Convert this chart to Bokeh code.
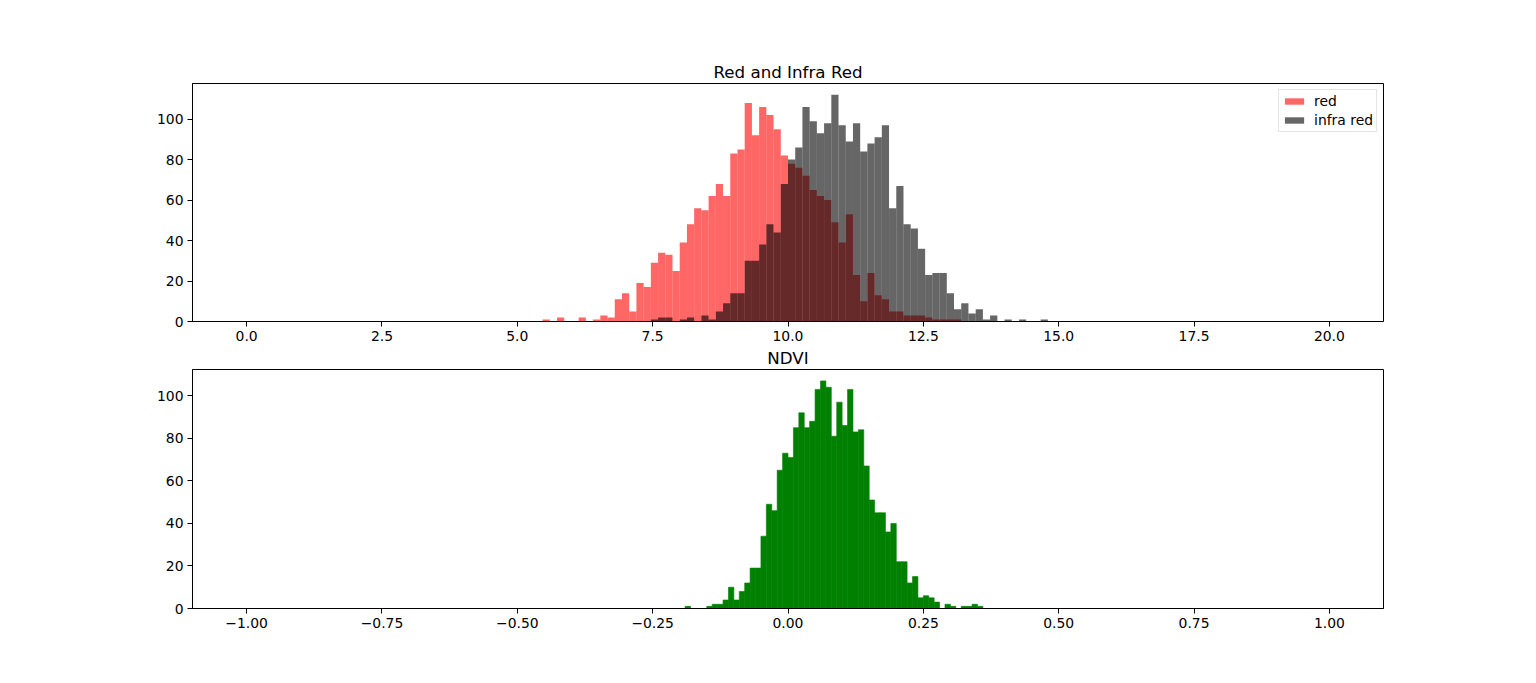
import numpy as np
from bokeh.plotting import figure
from bokeh.layouts import column
from bokeh.models import FixedTicker, Legend, LegendItem, Range1d
from bokeh.embed import file_html
from bokeh.resources import INLINE

# ---------------- data ----------------
# Top panel: histograms of the red and infra red bands, 150 bins on [0, 20]
band_lo = 0.0
band_hi = 20.0
band_bins = 150

red_first_bin = 41
red_counts = [1, 0, 2, 0, 0, 2, 0, 1, 3, 2,
              11, 14, 5, 19, 17, 29, 34, 33, 25, 39,
              48, 56, 55, 62, 68, 62, 83, 85, 108, 92,
              106, 102, 95, 82, 78, 76, 72, 65, 62, 60,
              49, 39, 53, 23, 10, 24, 13, 11, 5, 5,
              3, 3, 3, 2, 1, 1, 1, 1]

ir_first_bin = 56
ir_counts = [1, 2, 2, 0, 1, 2, 0, 3, 1, 5,
             9, 14, 14, 30, 30, 38, 48, 44, 68, 80,
             86, 106, 99, 93, 98, 112, 97, 89, 98, 84,
             88, 91, 97, 56, 67, 48, 46, 36, 23, 24,
             24, 14, 6, 9, 4, 6, 1, 3, 0, 1,
             0, 1, 0, 0, 1]

# Bottom panel: NDVI histogram, 200 bins on [-1, 1]
ndvi_lo = -1.0
ndvi_hi = 1.0
ndvi_bins = 200
ndvi_first_bin = 81
ndvi_counts = [1, 0, 0, 0, 1, 2, 2, 4, 10, 4,
               8, 12, 19, 19, 34, 49, 46, 65, 73, 71,
               85, 92, 85, 88, 103, 107, 104, 81, 97, 86,
               103, 83, 84, 67, 51, 45, 45, 36, 40, 22,
               22, 12, 15, 5, 6, 5, 3, 0, 2, 1,
               0, 1, 1, 2, 1]

top_title = "Red and Infra Red"
bottom_title = "NDVI"
series_labels = ["red", "infra red"]

top_xticks = [0.0, 2.5, 5.0, 7.5, 10.0, 12.5, 15.0, 17.5, 20.0]
top_xtick_labels = ["0.0", "2.5", "5.0", "7.5", "10.0", "12.5", "15.0", "17.5", "20.0"]
bottom_xticks = [-1.0, -0.75, -0.5, -0.25, 0.0, 0.25, 0.5, 0.75, 1.0]
bottom_xtick_labels = ["\u22121.00", "\u22120.75", "\u22120.50", "\u22120.25", "0.00",
                       "0.25", "0.50", "0.75", "1.00"]
yticks = [0, 20, 40, 60, 80, 100]
ytick_labels = ["0", "20", "40", "60", "80", "100"]

# ---------------- helpers ----------------
FONT = "DejaVu Sans"
TICK_SIZE = "13.9px"


def edges(lo, hi, nbins, first, counts):
    w = (hi - lo) / nbins
    idx = np.arange(first, first + len(counts))
    return lo + idx * w, lo + (idx + 1) * w, np.array(counts, dtype=float)


def style(p, xt, xl):
    p.xgrid.visible = False
    p.ygrid.visible = False
    p.outline_line_color = "black"
    p.outline_line_width = 1
    p.outline_line_alpha = 1
    p.xaxis.ticker = FixedTicker(ticks=xt)
    p.xaxis.major_label_overrides = {t: l for t, l in zip(xt, xl)}
    p.yaxis.ticker = FixedTicker(ticks=yticks)
    p.yaxis.major_label_overrides = {t: l for t, l in zip(yticks, ytick_labels)}
    for ax in (p.xaxis, p.yaxis):
        ax.axis_line_color = "black"
        ax.major_tick_line_color = "black"
        ax.major_tick_in = 0
        ax.major_tick_out = 5
        ax.minor_tick_line_color = None
        ax.major_label_text_color = "black"
        ax.major_label_text_font = FONT
        ax.major_label_text_font_size = TICK_SIZE
        ax.major_label_standoff = 4
    p.title.align = "center"
    p.title.text_font = FONT
    p.title.text_font_size = "16.7px"
    p.title.text_font_style = "normal"
    p.title.text_color = "black"
    p.title.standoff = 3


# ---------------- top figure ----------------
p1 = figure(frame_width=1191, frame_height=238,
            min_border_left=192, min_border_right=145,
            min_border_top=83, min_border_bottom=20,
            x_range=Range1d(-1.0, 21.0), y_range=Range1d(0, 117.6),
            title=top_title,
            output_backend="svg", toolbar_location=None)

l, r, c = edges(band_lo, band_hi, band_bins, red_first_bin, red_counts)
r_red = p1.quad(left=l, right=r, bottom=0, top=c,
                fill_color="red", fill_alpha=0.6, line_color=None)
l, r, c = edges(band_lo, band_hi, band_bins, ir_first_bin, ir_counts)
r_ir = p1.quad(left=l, right=r, bottom=0, top=c,
               fill_color="black", fill_alpha=0.6, line_color=None)
style(p1, top_xticks, top_xtick_labels)

legend = Legend(items=[LegendItem(label=series_labels[0], renderers=[r_red]),
                       LegendItem(label=series_labels[1], renderers=[r_ir])],
                location="top_right")
legend.label_text_font = FONT
legend.label_text_font_size = TICK_SIZE
legend.label_text_color = "black"
legend.glyph_width = 24
legend.glyph_height = 8
legend.label_height = 14
legend.label_standoff = 8
legend.padding = 3
legend.spacing = 3
legend.margin = 6
legend.border_line_color = "#cccccc"
legend.background_fill_alpha = 0.8
p1.add_layout(legend)

# ---------------- bottom figure ----------------
p2 = figure(frame_width=1191, frame_height=239,
            min_border_left=192, min_border_right=145,
            min_border_top=26, min_border_bottom=30,
            x_range=Range1d(-1.1, 1.1), y_range=Range1d(0, 112.35),
            title=bottom_title,
            output_backend="svg", toolbar_location=None)

l, r, c = edges(ndvi_lo, ndvi_hi, ndvi_bins, ndvi_first_bin, ndvi_counts)
p2.quad(left=l, right=r, bottom=0, top=c,
        fill_color="green", fill_alpha=1.0,
        line_color="green", line_width=0.6)
style(p2, bottom_xticks, bottom_xtick_labels)

layout = column(p1, p2, spacing=0)

open("out.html", "w").write(file_html(layout, INLINE))
